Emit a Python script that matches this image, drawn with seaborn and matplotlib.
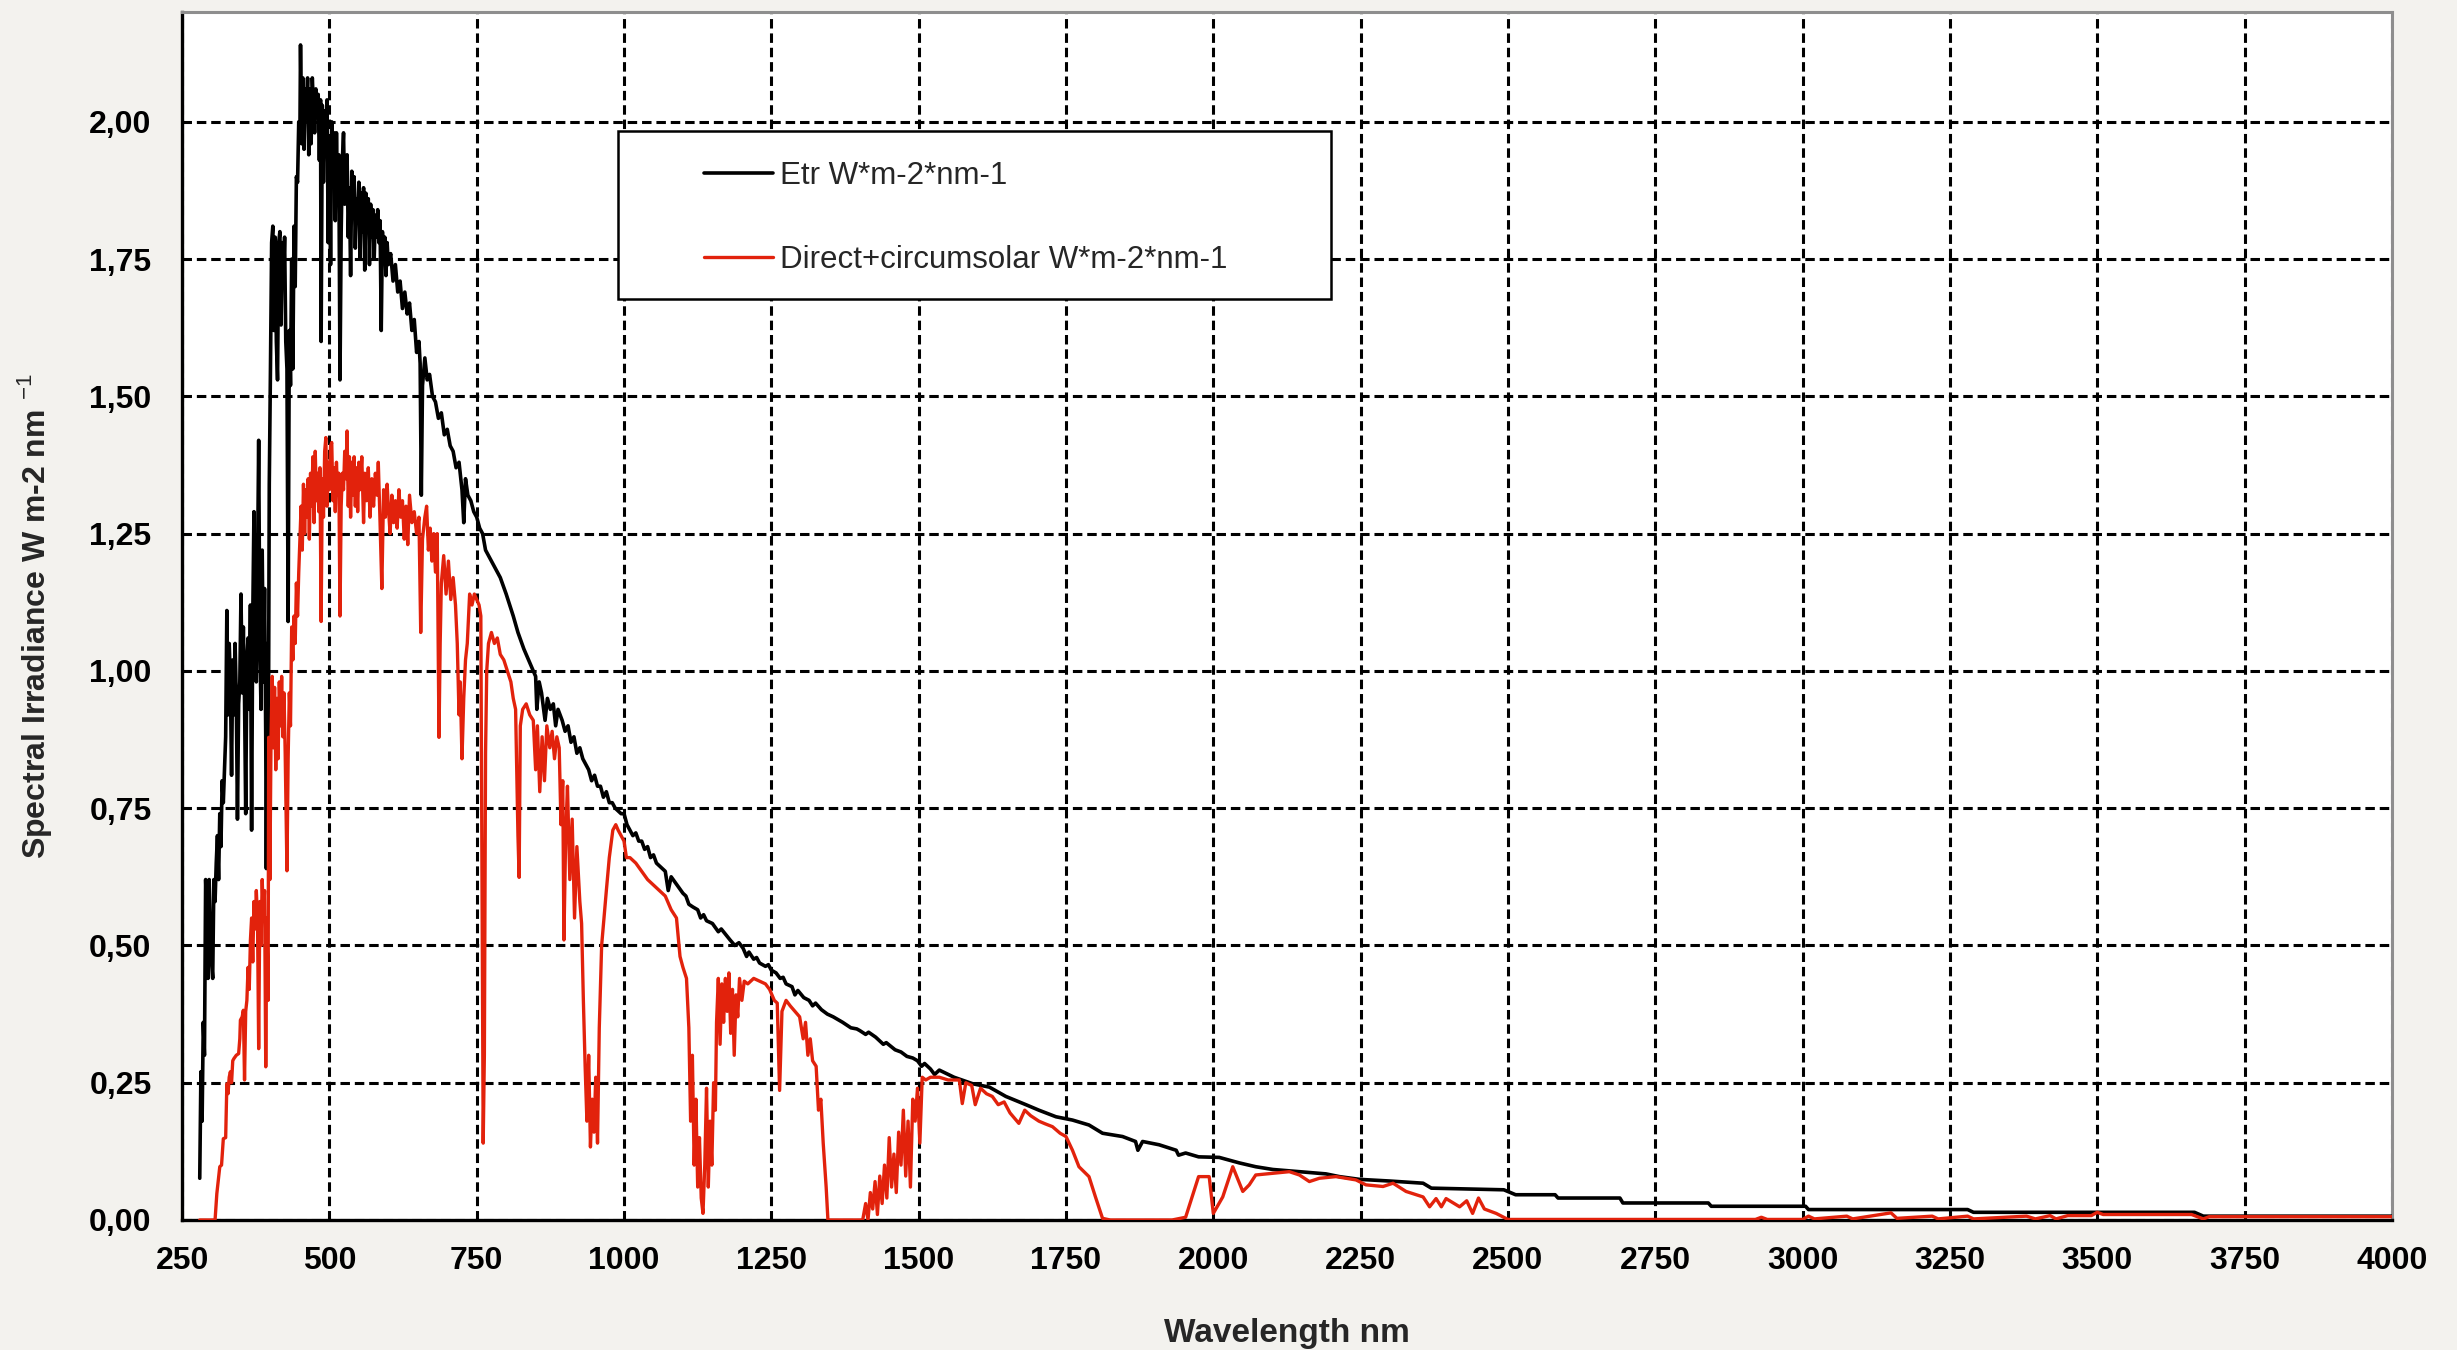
import matplotlib
matplotlib.use("Agg")
import matplotlib.pyplot as plt
import seaborn as sns
import pandas as pd
from matplotlib.patches import Rectangle

# Extraterrestrial spectrum (Etr)
wl_etr = [280, 282, 284, 286, 288, 290, 292, 294, 296, 298,
          300, 302, 304, 306, 308, 310, 312, 314, 316, 318,
          320, 322, 324, 326, 328, 330, 332, 334, 336, 338,
          340, 342, 344, 346, 348, 350, 352, 354, 356, 358,
          360, 362, 364, 366, 368, 370, 372, 374, 376, 378,
          380, 382, 384, 386, 388, 390, 392, 393, 395, 396,
          398, 400, 402, 404, 406, 408, 410, 412, 414, 416,
          418, 420, 422, 424, 426, 428, 430, 432, 434, 436,
          438, 440, 442, 444, 446, 448, 450, 451, 453, 455,
          457, 459, 461, 463, 465, 467, 469, 471, 473, 475,
          477, 479, 481, 483, 485, 486, 488, 490, 492, 494,
          496, 498, 500, 502, 504, 506, 508, 510, 512, 514,
          516, 518, 520, 522, 524, 526, 528, 530, 532, 534,
          536, 538, 540, 542, 544, 546, 548, 550, 552, 554,
          556, 558, 560, 562, 564, 566, 568, 570, 572, 574,
          576, 578, 580, 582, 584, 586, 588, 590, 592, 594,
          596, 598, 600, 604, 608, 612, 616, 620, 624, 628,
          632, 636, 640, 644, 648, 652, 654, 656, 658, 662,
          666, 670, 675, 680, 685, 690, 695, 700, 705, 710,
          715, 720, 725, 728, 731, 735, 740, 745, 750, 755,
          760, 765, 770, 775, 780, 790, 800, 812, 820, 830,
          846, 850, 852, 856, 860, 866, 870, 875, 880, 884,
          888, 895, 900, 905, 910, 915, 920, 925, 930, 935,
          940, 945, 950, 955, 960, 965, 970, 975, 980, 985,
          990, 995, 1000, 1005, 1010, 1015, 1020, 1025, 1030, 1035,
          1040, 1045, 1050, 1055, 1060, 1070, 1075, 1080, 1090, 1100,
          1105, 1110, 1117, 1125, 1130, 1135, 1140, 1150, 1160, 1165,
          1174, 1180, 1188, 1195, 1202, 1208, 1212, 1220, 1225, 1230,
          1240, 1245, 1250, 1258, 1265, 1270, 1275, 1285, 1290, 1295,
          1305, 1314, 1320, 1325, 1335, 1345, 1355, 1371, 1385, 1395,
          1400, 1410, 1415, 1427, 1440, 1445, 1460, 1470, 1480, 1490,
          1498, 1505, 1510, 1520, 1527, 1535,
          1560, 1592, 1620, 1648, 1682, 1704, 1733, 1761, 1789, 1812,
          1846, 1868, 1872, 1880, 1908, 1937, 1941, 1953, 1975, 2010,
          2044, 2072, 2101, 2146, 2191, 2214, 2248, 2299, 2356, 2370,
          2493, 2513, 2580, 2585, 2690, 2695, 2840, 2845, 3005, 3010,
          3280, 3290, 3665, 3680, 4000]
etr = [0.076, 0.27, 0.18, 0.36, 0.30, 0.62, 0.55, 0.44, 0.62, 0.52,
       0.47, 0.44, 0.62, 0.58, 0.65, 0.70, 0.62, 0.74, 0.68, 0.80,
       0.76, 0.82, 0.88, 1.11, 0.92, 1.05, 0.98, 0.81, 1.02, 0.92,
       1.05, 0.95, 0.73, 0.94, 0.98, 1.14, 0.96, 1.08, 0.95, 0.74,
       1.02, 1.06, 0.93, 1.12, 0.71, 1.10, 1.29, 1.02, 0.98, 1.18,
       1.42, 1.05, 0.93, 1.22, 0.98, 1.15, 0.88, 0.64, 1.05, 0.70,
       1.34, 1.55, 1.78, 1.81, 1.62, 1.79, 1.60, 1.53, 1.78, 1.80,
       1.63, 1.78, 1.71, 1.79, 1.60, 1.55, 1.09, 1.62, 1.52, 1.75,
       1.55, 1.81, 1.70, 1.90, 1.89, 2.00, 1.98, 2.14, 1.96, 2.08,
       1.95, 2.06, 2.02, 2.08, 1.94, 2.06, 1.96, 2.08, 2.03, 1.98,
       2.06, 2.02, 2.05, 1.93, 2.04, 1.60, 2.03, 1.89, 2.02, 1.96,
       2.04, 1.78, 1.97, 1.74, 2.00, 1.95, 1.98, 1.82, 1.98, 1.86,
       1.94, 1.53, 1.80, 1.93, 1.98, 1.85, 1.90, 1.94, 1.79, 1.88,
       1.72, 1.91, 1.84, 1.90, 1.77, 1.86, 1.83, 1.89, 1.75, 1.87,
       1.80, 1.88, 1.73, 1.87, 1.82, 1.86, 1.74, 1.85, 1.79, 1.84,
       1.75, 1.83, 1.79, 1.84, 1.78, 1.82, 1.62, 1.80, 1.76, 1.79,
       1.72, 1.78, 1.74, 1.76, 1.71, 1.74, 1.69, 1.71, 1.66, 1.69,
       1.65, 1.67, 1.62, 1.64, 1.58, 1.60, 1.56, 1.32, 1.52, 1.57,
       1.53, 1.54, 1.50, 1.49, 1.46, 1.47, 1.43, 1.44, 1.41, 1.40,
       1.37, 1.38, 1.33, 1.27, 1.35, 1.32, 1.31, 1.29, 1.28, 1.26,
       1.25, 1.22, 1.21, 1.20, 1.19, 1.17, 1.14, 1.10, 1.07, 1.04,
       1.00, 0.99, 0.93, 0.98, 0.96, 0.91, 0.95, 0.93, 0.94, 0.90,
       0.93, 0.91, 0.89, 0.90, 0.87, 0.88, 0.85, 0.86, 0.84, 0.83,
       0.82, 0.80, 0.81, 0.79, 0.79, 0.77, 0.78, 0.76, 0.76, 0.75,
       0.745, 0.74, 0.74, 0.72, 0.71, 0.70, 0.705, 0.69, 0.69, 0.675,
       0.68, 0.66, 0.665, 0.65, 0.645, 0.635, 0.60, 0.625, 0.61, 0.595,
       0.59, 0.575, 0.57, 0.565, 0.55, 0.556, 0.545, 0.54, 0.525, 0.53,
       0.518, 0.51, 0.50, 0.505, 0.495, 0.48, 0.488, 0.475, 0.478, 0.468,
       0.462, 0.465, 0.455, 0.45, 0.44, 0.442, 0.43, 0.425, 0.41, 0.418,
       0.405, 0.40, 0.39, 0.395, 0.383, 0.375, 0.37, 0.36, 0.35, 0.348,
       0.345, 0.338, 0.342, 0.333, 0.32, 0.323, 0.31, 0.306, 0.298, 0.295,
       0.29, 0.28, 0.285, 0.275, 0.265, 0.273,
       0.26, 0.248, 0.242, 0.225, 0.21, 0.20, 0.188, 0.182, 0.173, 0.158,
       0.152, 0.143, 0.127, 0.143, 0.137, 0.127, 0.118, 0.122, 0.115, 0.114,
       0.104, 0.097, 0.092, 0.088, 0.084, 0.079, 0.074, 0.071, 0.067, 0.058,
       0.055, 0.046, 0.046, 0.040, 0.040, 0.031, 0.031, 0.025, 0.025, 0.019,
       0.019, 0.014, 0.014, 0.007, 0.007]

# Direct + circumsolar spectrum
wl_dir = [280, 300, 306, 309, 314, 317, 320, 324, 326, 328, 330, 332, 334, 336, 338, 342, 346, 348, 349, 352,
          354, 356, 358, 360, 362, 364, 366, 368, 370, 372, 374, 376, 378, 380, 382, 384, 386, 388, 390, 392,
          394, 396, 397, 399, 401, 403, 405, 407, 409, 411, 413, 415, 417, 419, 421, 423, 425, 428, 430, 432,
          434, 436, 438, 440, 442, 444, 446, 448, 450, 452, 454, 456, 458, 460, 462, 464, 466, 468, 470, 472,
          474, 476, 478, 480, 482, 484, 486, 488, 490, 492, 494, 496, 498, 500, 502, 504, 506, 508, 510, 512,
          514, 516, 518, 520, 522, 524, 526, 528, 530, 532, 534, 536, 538, 540, 542, 544, 546, 548, 550, 552,
          555, 558, 560, 563, 566, 569, 572, 575, 578, 581, 583, 586, 589, 592, 595, 598, 600, 603, 606, 609,
          612, 615, 618, 621, 624, 627, 630, 633, 636, 640, 644, 648, 652, 655, 658, 662, 665, 668, 671, 674,
          677, 680, 683, 686, 688, 690, 694, 698, 702, 706, 710, 714, 717, 720, 722, 725, 728, 731, 734, 738,
          742, 746, 750, 754, 757, 759, 761, 763, 765, 767, 770, 775, 780, 785, 790, 796, 802, 808, 812, 816,
          820, 822, 824, 828, 834, 840, 846, 850, 853, 857, 861, 865, 869, 874, 878, 882, 886, 890, 893, 896,
          898, 901, 904, 908, 912, 916, 920, 925, 928, 931, 934, 937, 940, 943, 946, 949, 952, 955, 958, 962,
          966, 970, 975, 981, 986, 990, 995, 1000, 1004, 1010, 1020, 1030, 1040, 1050, 1060, 1070, 1080, 1089, 1095, 1100,
          1106, 1110, 1113, 1116, 1119, 1122, 1125, 1128, 1131, 1134, 1137, 1140, 1143, 1146, 1149, 1152, 1155, 1157, 1160, 1163,
          1166, 1169, 1172, 1175, 1178, 1181, 1184, 1187, 1190, 1193, 1196, 1200, 1204, 1210, 1220, 1230, 1240, 1247, 1255, 1260,
          1264, 1268, 1275, 1282, 1290, 1298, 1304, 1308, 1312, 1316, 1320, 1326, 1330, 1334, 1338, 1343, 1346, 1405, 1410, 1414,
          1418, 1422, 1426, 1430, 1434, 1438, 1442, 1446, 1450, 1454, 1458, 1462, 1466, 1470, 1474, 1478, 1482, 1486, 1490, 1494,
          1498, 1502, 1506, 1512, 1520, 1535, 1550, 1569, 1574, 1580, 1590, 1596, 1605, 1615, 1625, 1635, 1645, 1655, 1670, 1680,
          1690, 1704, 1715, 1727, 1740, 1750, 1761, 1772, 1789, 1800, 1812, 1825, 1930, 1953, 1975, 1993, 2000, 2016, 2033, 2050,
          2061, 2072, 2101, 2129, 2146, 2163, 2180, 2208, 2242, 2259, 2288, 2305, 2327, 2356, 2367, 2378, 2387, 2395, 2418, 2430,
          2440, 2450, 2460, 2480, 2500, 2920, 2930, 2940, 3000, 3010, 3020, 3075, 3085, 3150, 3160, 3220, 3230, 3280, 3290, 3380,
          3395, 3420, 3430, 3450, 3490, 3500, 3510, 3660, 3680, 3690, 4000]
direct = [0.0, 0.0, 0.0, 0.048, 0.097, 0.10, 0.148, 0.15, 0.248, 0.23, 0.26, 0.27, 0.25, 0.29, 0.294, 0.30, 0.303, 0.33, 0.364, 0.37,
          0.382, 0.255, 0.38, 0.40, 0.46, 0.42, 0.51, 0.55, 0.47, 0.58, 0.53, 0.60, 0.55, 0.312, 0.58, 0.50, 0.62, 0.55, 0.60, 0.279,
          0.55, 0.40, 0.879, 0.62, 0.88, 0.99, 0.86, 0.97, 0.82, 0.95, 0.84, 0.98, 0.90, 0.99, 0.88, 0.96, 0.85, 0.636, 0.84, 0.96,
          0.90, 1.08, 1.02, 1.10, 1.05, 1.16, 1.10, 1.18, 1.24, 1.30, 1.22, 1.34, 1.25, 1.33, 1.28, 1.35, 1.24, 1.36, 1.30, 1.39,
          1.27, 1.40, 1.31, 1.36, 1.29, 1.37, 1.09, 1.35, 1.28, 1.40, 1.425, 1.30, 1.38, 1.33, 1.41, 1.416, 1.31, 1.37, 1.29, 1.38,
          1.32, 1.36, 1.10, 1.30, 1.36, 1.33, 1.40, 1.35, 1.437, 1.30, 1.39, 1.28, 1.38, 1.32, 1.39, 1.30, 1.37, 1.29, 1.38, 1.33,
          1.39, 1.27, 1.36, 1.31, 1.37, 1.28, 1.35, 1.30, 1.36, 1.32, 1.38, 1.27, 1.15, 1.33, 1.28, 1.34, 1.30, 1.25, 1.32, 1.27,
          1.31, 1.26, 1.33, 1.28, 1.31, 1.24, 1.30, 1.23, 1.32, 1.27, 1.29, 1.25, 1.28, 1.07, 1.24, 1.28, 1.30, 1.22, 1.26, 1.20,
          1.25, 1.18, 1.25, 0.879, 1.05, 1.16, 1.21, 1.14, 1.20, 1.13, 1.17, 1.12, 1.05, 0.92, 0.98, 0.84, 0.95, 1.02, 1.05, 1.14,
          1.12, 1.14, 1.13, 1.12, 1.10, 0.60, 0.14, 0.30, 0.85, 1.00, 1.05, 1.07, 1.05, 1.06, 1.03, 1.02, 1.00, 0.98, 0.95, 0.93,
          0.70, 0.624, 0.90, 0.93, 0.94, 0.92, 0.91, 0.82, 0.90, 0.78, 0.88, 0.80, 0.90, 0.86, 0.89, 0.84, 0.88, 0.86, 0.72, 0.80,
          0.51, 0.70, 0.79, 0.62, 0.73, 0.55, 0.68, 0.58, 0.54, 0.40, 0.28, 0.18, 0.30, 0.133, 0.22, 0.16, 0.26, 0.14, 0.35, 0.50,
          0.55, 0.60, 0.66, 0.71, 0.72, 0.71, 0.70, 0.69, 0.66, 0.66, 0.65, 0.635, 0.62, 0.61, 0.60, 0.59, 0.565, 0.55, 0.48, 0.46,
          0.44, 0.35, 0.18, 0.30, 0.10, 0.22, 0.06, 0.15, 0.04, 0.012, 0.10, 0.24, 0.06, 0.18, 0.10, 0.25, 0.20, 0.36, 0.44, 0.32,
          0.43, 0.36, 0.44, 0.38, 0.45, 0.34, 0.42, 0.30, 0.41, 0.37, 0.44, 0.40, 0.435, 0.43, 0.44, 0.435, 0.43, 0.42, 0.40, 0.395,
          0.236, 0.38, 0.40, 0.39, 0.38, 0.37, 0.33, 0.36, 0.30, 0.33, 0.29, 0.28, 0.20, 0.22, 0.14, 0.06, 0.0, 0.0, 0.03, 0.0,
          0.05, 0.02, 0.07, 0.01, 0.08, 0.03, 0.10, 0.04, 0.15, 0.06, 0.12, 0.05, 0.16, 0.10, 0.20, 0.08, 0.18, 0.06, 0.22, 0.18,
          0.24, 0.14, 0.26, 0.255, 0.26, 0.26, 0.255, 0.255, 0.212, 0.25, 0.245, 0.21, 0.24, 0.23, 0.225, 0.21, 0.215, 0.195, 0.176, 0.20,
          0.19, 0.18, 0.175, 0.17, 0.158, 0.152, 0.127, 0.097, 0.079, 0.042, 0.003, 0.0, 0.0, 0.005, 0.079, 0.079, 0.012, 0.042, 0.097, 0.052,
          0.064, 0.082, 0.085, 0.088, 0.082, 0.07, 0.076, 0.079, 0.073, 0.064, 0.061, 0.067, 0.052, 0.042, 0.024, 0.039, 0.024, 0.039, 0.024, 0.035,
          0.012, 0.04, 0.02, 0.012, 0.001, 0.001, 0.005, 0.001, 0.001, 0.007, 0.002, 0.007, 0.002, 0.013, 0.003, 0.007, 0.002, 0.007, 0.002, 0.007,
          0.002, 0.008, 0.002, 0.008, 0.008, 0.014, 0.010, 0.010, 0.002, 0.006, 0.006]

x_ticks = list(range(250, 4001, 250))
y_ticks = [0.0, 0.25, 0.5, 0.75, 1.0, 1.25, 1.5, 1.75, 2.0]
y_tick_labels = ["0,00", "0,25", "0,50", "0,75", "1,00", "1,25", "1,50", "1,75", "2,00"]

sns.set_style("white")
plt.rcParams["font.family"] = ["Liberation Sans", "DejaVu Sans"]
plt.rcParams["mathtext.fontset"] = "custom"
plt.rcParams["mathtext.rm"] = "Liberation Sans"

fig = plt.figure(figsize=(24.57, 13.5), dpi=100, facecolor="#f3f2ee")
ax = fig.add_axes([0.0741, 0.0963, 0.8994, 0.8948])
ax.set_facecolor("white")

df_etr = pd.DataFrame({"wl": wl_etr, "val": etr})
df_dir = pd.DataFrame({"wl": wl_dir, "val": direct})

sns.lineplot(data=df_etr, x="wl", y="val", ax=ax, color="black", linewidth=2.6,
             estimator=None, sort=False, legend=False, zorder=3)
sns.lineplot(data=df_dir, x="wl", y="val", ax=ax, color="#e2220c", linewidth=2.4,
             estimator=None, sort=False, legend=False, zorder=4)

ax.set_xlim(250, 4000)
ax.set_ylim(0, 2.2)
ax.set_xticks(x_ticks)
ax.set_yticks(y_ticks)
ax.set_yticklabels(y_tick_labels)

ax.grid(True, color="black", linestyle=(0, (3.1, 1.6)), linewidth=2.2)
ax.set_axisbelow(True)

for side in ["left", "bottom"]:
    ax.spines[side].set_color("black")
    ax.spines[side].set_linewidth(2.4)
for side in ["top", "right"]:
    ax.spines[side].set_color("#8e8e8e")
    ax.spines[side].set_linewidth(2.2)

ax.tick_params(axis="both", direction="out", length=7, width=2.2, color="black",
               labelsize=23, labelcolor="black")
ax.tick_params(axis="x", pad=12)
ax.tick_params(axis="y", pad=15)
for lab in ax.get_xticklabels() + ax.get_yticklabels():
    lab.set_fontweight("bold")

ax.set_xlabel("Wavelength nm", fontsize=24, fontweight="bold")
ax.set_ylabel(r"Spectral Irradiance W m-2 nm $^{-1}$", fontsize=23, fontweight="bold")
ax.xaxis.set_label_coords(0.5, -0.081)
ax.yaxis.set_label_coords(-0.058, 0.5)

# legend box
ax.add_patch(Rectangle((0.1971, 0.7624), 0.3226, 0.1394, transform=ax.transAxes,
                       facecolor="white", edgecolor="black", linewidth=1.8, zorder=5))
h1, = ax.plot([], [], color="black", linewidth=2.6)
h2, = ax.plot([], [], color="#e2220c", linewidth=2.4)
leg = ax.legend([h1, h2], ["Etr W*m-2*nm-1", "Direct+circumsolar W*m-2*nm-1"],
                loc="upper left", bbox_to_anchor=(0.2362, 0.877), frameon=False,
                fontsize=22.5, borderpad=0, borderaxespad=0, handlelength=2.2,
                handletextpad=0.22, labelspacing=1.74)
leg.set_zorder(6)

fig.savefig("out.png", dpi=100, facecolor=fig.get_facecolor())
